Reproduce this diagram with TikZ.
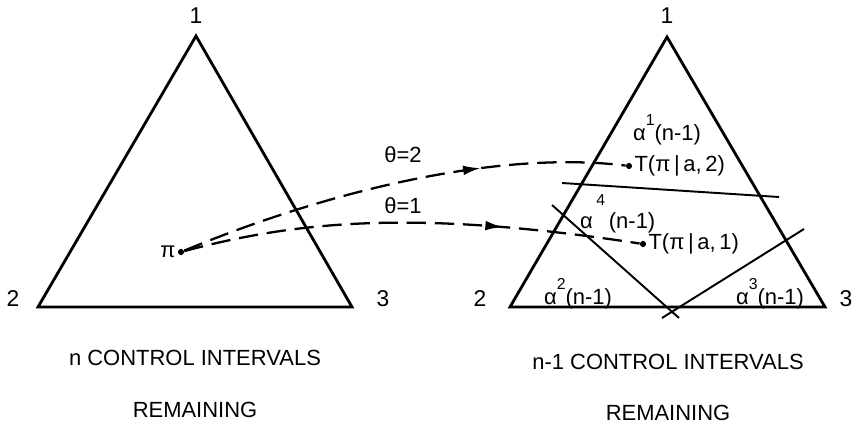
\documentclass[tikz,border=0pt]{standalone}
\usepackage{fontspec}
\setmainfont{Liberation Sans}
\usetikzlibrary{arrows.meta,decorations.markings}

\newcommand{\regionlab}[1]{α\raisebox{1.25ex}{\small #1}(n-1)}

\begin{document}
\begin{tikzpicture}[
    x=0.02cm, y=-0.02cm,
    vertex/.style={font=\fontsize{13}{15}\selectfont, inner sep=1pt},
    region/.style={font=\fontsize{12.5}{15}\selectfont, inner sep=1pt},
    caption/.style={font=\fontsize{12.5}{15}\selectfont},
    simplex/.style={line width=1.6pt, line join=miter},
    cut/.style={line width=1.1pt},
    transition/.style={line width=1.3pt, dash pattern=on 11pt off 5pt,
        decoration={markings, mark=at position #1 with {\arrow{Latex[length=10pt,width=5.5pt]}}},
        postaction={decorate}},
    dot/.style={circle, fill, inner sep=0pt, minimum size=3.5pt}
]
    \useasboundingbox (0,0) rectangle (853,426);

    % Left simplex
    \coordinate (L1) at (196,36);
    \coordinate (L2) at (38,307);
    \coordinate (L3) at (352,307);
    \draw[simplex] (L1) -- (L2) -- (L3) -- cycle;
    \node[vertex] (l1) at (196,16) {1};
    \node[vertex] (l2) at (13,299) {2};
    \node[vertex] (l3) at (383,299) {3};

    % Right simplex
    \coordinate (R1) at (667,37);
    \coordinate (R2) at (510,307);
    \coordinate (R3) at (825,307);
    \draw[simplex] (R1) -- (R2) -- (R3) -- cycle;
    \node[vertex] (r1) at (667,16) {1};
    \node[vertex] (r2) at (480,299) {2};
    \node[vertex] (r3) at (846,299) {3};

    % Partition of the right simplex
    \draw[cut] (562,183) -- (779,197);
    \draw[cut] (552,205) -- (679,318);
    \draw[cut] (804,229) -- (662,318);

    \node[region] (a1) at (667,130) {\regionlab{1}};
    \node[region] (a2) at (578,294) {\regionlab{2}};
    \node[region] (a3) at (770,294) {\regionlab{3}};
    \node[region, anchor=west] (a4) at (578,214) {α\,\raisebox{2ex}{\small 4}\,(n-1)};

    % Points
    \node[dot] (pi) at (181,252) {};
    \node[region, anchor=east] (pilab) at (pi.west) {π\hspace{8pt}};
    \node[dot] (t2) at (629,166) {};
    \node[region, anchor=west] (t2lab) at (t2.east) {T(π\,|\,a,\,2)};
    \node[dot] (t1) at (643,244) {};
    \node[region, anchor=west] (t1lab) at (t1.east) {T(π\,|\,a,\,1)};

    % Transitions
    \draw[transition=0.68] (pi) .. controls (330,190) and (500,150) .. (t2);
    \draw[transition=0.7] (pi) .. controls (300,220) and (420,210) .. (t1);
    \node[region] (th2) at (403,155) {θ=2};
    \node[region] (th1) at (403,206) {θ=1};

    % Captions
    \node[caption] (capl) at (195,358) {n CONTROL INTERVALS};
    \node[caption] (capl2) at (195,410) {REMAINING};
    \node[caption] (capr) at (668,362) {n-1 CONTROL INTERVALS};
    \node[caption] (capr2) at (668,413) {REMAINING};
\end{tikzpicture}
\end{document}
